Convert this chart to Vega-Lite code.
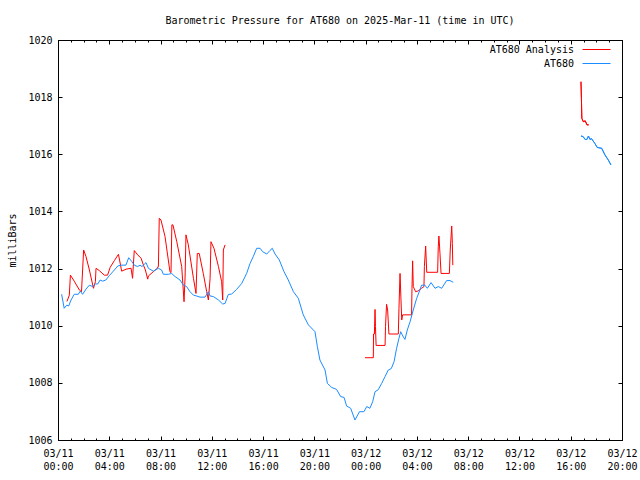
{
  "$schema": "https://vega.github.io/schema/vega-lite/v6.json",
  "width": 564,
  "height": 400,
  "autosize": "none",
  "padding": {"left": 58, "top": 40, "right": 18, "bottom": 40},
  "background": "white",
  "title": {"text": "Barometric Pressure for AT680 on 2025-Mar-11 (time in UTC)", "font": "DejaVu Sans Mono", "fontSize": 10, "fontWeight": "normal", "color": "black", "anchor": "middle", "offset": 9},
  "config": {
    "view": {"stroke": "black", "strokeWidth": 1},
    "axis": {"domainColor": "black", "tickColor": "black", "labelColor": "black", "labelFont": "DejaVu Sans Mono", "labelFontSize": 10, "titleFont": "DejaVu Sans Mono", "titleFontSize": 10, "titleFontWeight": "normal", "titleColor": "black", "grid": false},
    "legend": {"orient": "none", "legendX": 524, "legendY": -5, "symbolType": "stroke", "symbolSize": 784, "symbolStrokeWidth": 1, "labelAlign": "right", "labelOffset": -37, "gridAlign": "none", "rowPadding": -6, "labelFont": "DejaVu Sans Mono", "labelFontSize": 10, "labelColor": "black", "padding": 0}
  },
  "data": {"values": [
    {"t": "2025-03-11T00:42:00Z", "v": 1010.85, "s": "AT680 Analysis", "g": "r1"},
    {"t": "2025-03-11T00:53:00Z", "v": 1011.07, "s": "AT680 Analysis", "g": "r1"},
    {"t": "2025-03-11T00:58:00Z", "v": 1011.77, "s": "AT680 Analysis", "g": "r1"},
    {"t": "2025-03-11T01:16:00Z", "v": 1011.56, "s": "AT680 Analysis", "g": "r1"},
    {"t": "2025-03-11T01:40:00Z", "v": 1011.25, "s": "AT680 Analysis", "g": "r1"},
    {"t": "2025-03-11T01:50:00Z", "v": 1011.19, "s": "AT680 Analysis", "g": "r1"},
    {"t": "2025-03-11T02:00:00Z", "v": 1012.65, "s": "AT680 Analysis", "g": "r1"},
    {"t": "2025-03-11T02:11:00Z", "v": 1012.42, "s": "AT680 Analysis", "g": "r1"},
    {"t": "2025-03-11T02:27:00Z", "v": 1011.95, "s": "AT680 Analysis", "g": "r1"},
    {"t": "2025-03-11T02:46:00Z", "v": 1011.31, "s": "AT680 Analysis", "g": "r1"},
    {"t": "2025-03-11T02:55:00Z", "v": 1011.54, "s": "AT680 Analysis", "g": "r1"},
    {"t": "2025-03-11T02:58:00Z", "v": 1012.01, "s": "AT680 Analysis", "g": "r1"},
    {"t": "2025-03-11T03:13:00Z", "v": 1011.93, "s": "AT680 Analysis", "g": "r1"},
    {"t": "2025-03-11T03:37:00Z", "v": 1011.77, "s": "AT680 Analysis", "g": "r1"},
    {"t": "2025-03-11T03:52:00Z", "v": 1011.77, "s": "AT680 Analysis", "g": "r1"},
    {"t": "2025-03-11T04:04:00Z", "v": 1012.04, "s": "AT680 Analysis", "g": "r1"},
    {"t": "2025-03-11T04:24:00Z", "v": 1012.28, "s": "AT680 Analysis", "g": "r1"},
    {"t": "2025-03-11T04:43:00Z", "v": 1012.50, "s": "AT680 Analysis", "g": "r1"},
    {"t": "2025-03-11T04:58:00Z", "v": 1011.91, "s": "AT680 Analysis", "g": "r1"},
    {"t": "2025-03-11T05:19:00Z", "v": 1011.98, "s": "AT680 Analysis", "g": "r1"},
    {"t": "2025-03-11T05:42:00Z", "v": 1012.01, "s": "AT680 Analysis", "g": "r1"},
    {"t": "2025-03-11T05:49:00Z", "v": 1011.66, "s": "AT680 Analysis", "g": "r1"},
    {"t": "2025-03-11T05:57:00Z", "v": 1012.63, "s": "AT680 Analysis", "g": "r1"},
    {"t": "2025-03-11T06:13:00Z", "v": 1012.48, "s": "AT680 Analysis", "g": "r1"},
    {"t": "2025-03-11T06:29:00Z", "v": 1012.36, "s": "AT680 Analysis", "g": "r1"},
    {"t": "2025-03-11T06:40:00Z", "v": 1012.12, "s": "AT680 Analysis", "g": "r1"},
    {"t": "2025-03-11T06:49:00Z", "v": 1011.95, "s": "AT680 Analysis", "g": "r1"},
    {"t": "2025-03-11T07:00:00Z", "v": 1011.63, "s": "AT680 Analysis", "g": "r1"},
    {"t": "2025-03-11T07:03:00Z", "v": 1011.74, "s": "AT680 Analysis", "g": "r1"},
    {"t": "2025-03-11T07:26:00Z", "v": 1011.89, "s": "AT680 Analysis", "g": "r1"},
    {"t": "2025-03-11T07:45:00Z", "v": 1012.01, "s": "AT680 Analysis", "g": "r1"},
    {"t": "2025-03-11T07:50:00Z", "v": 1012.09, "s": "AT680 Analysis", "g": "r1"},
    {"t": "2025-03-11T07:54:00Z", "v": 1013.76, "s": "AT680 Analysis", "g": "r1"},
    {"t": "2025-03-11T08:02:00Z", "v": 1013.70, "s": "AT680 Analysis", "g": "r1"},
    {"t": "2025-03-11T08:21:00Z", "v": 1013.12, "s": "AT680 Analysis", "g": "r1"},
    {"t": "2025-03-11T08:44:00Z", "v": 1011.89, "s": "AT680 Analysis", "g": "r1"},
    {"t": "2025-03-11T08:49:00Z", "v": 1011.86, "s": "AT680 Analysis", "g": "r1"},
    {"t": "2025-03-11T08:53:00Z", "v": 1013.53, "s": "AT680 Analysis", "g": "r1"},
    {"t": "2025-03-11T08:58:00Z", "v": 1013.53, "s": "AT680 Analysis", "g": "r1"},
    {"t": "2025-03-11T09:16:00Z", "v": 1012.94, "s": "AT680 Analysis", "g": "r1"},
    {"t": "2025-03-11T09:39:00Z", "v": 1012.07, "s": "AT680 Analysis", "g": "r1"},
    {"t": "2025-03-11T09:50:00Z", "v": 1010.84, "s": "AT680 Analysis", "g": "r1"},
    {"t": "2025-03-11T09:55:00Z", "v": 1011.74, "s": "AT680 Analysis", "g": "r1"},
    {"t": "2025-03-11T09:59:00Z", "v": 1013.18, "s": "AT680 Analysis", "g": "r1"},
    {"t": "2025-03-11T10:10:00Z", "v": 1012.83, "s": "AT680 Analysis", "g": "r1"},
    {"t": "2025-03-11T10:34:00Z", "v": 1011.66, "s": "AT680 Analysis", "g": "r1"},
    {"t": "2025-03-11T10:46:00Z", "v": 1011.13, "s": "AT680 Analysis", "g": "r1"},
    {"t": "2025-03-11T10:52:00Z", "v": 1012.53, "s": "AT680 Analysis", "g": "r1"},
    {"t": "2025-03-11T11:01:00Z", "v": 1012.53, "s": "AT680 Analysis", "g": "r1"},
    {"t": "2025-03-11T11:20:00Z", "v": 1011.83, "s": "AT680 Analysis", "g": "r1"},
    {"t": "2025-03-11T11:36:00Z", "v": 1011.19, "s": "AT680 Analysis", "g": "r1"},
    {"t": "2025-03-11T11:44:00Z", "v": 1010.90, "s": "AT680 Analysis", "g": "r1"},
    {"t": "2025-03-11T11:52:00Z", "v": 1011.66, "s": "AT680 Analysis", "g": "r1"},
    {"t": "2025-03-11T11:56:00Z", "v": 1012.94, "s": "AT680 Analysis", "g": "r1"},
    {"t": "2025-03-11T12:10:00Z", "v": 1012.71, "s": "AT680 Analysis", "g": "r1"},
    {"t": "2025-03-11T12:31:00Z", "v": 1012.07, "s": "AT680 Analysis", "g": "r1"},
    {"t": "2025-03-11T12:46:00Z", "v": 1011.54, "s": "AT680 Analysis", "g": "r1"},
    {"t": "2025-03-11T12:51:00Z", "v": 1010.90, "s": "AT680 Analysis", "g": "r1"},
    {"t": "2025-03-11T12:54:00Z", "v": 1012.65, "s": "AT680 Analysis", "g": "r1"},
    {"t": "2025-03-11T13:02:00Z", "v": 1012.83, "s": "AT680 Analysis", "g": "r1"},
    {"t": "2025-03-11T23:57:00Z", "v": 1008.88, "s": "AT680 Analysis", "g": "r2"},
    {"t": "2025-03-12T00:36:00Z", "v": 1008.88, "s": "AT680 Analysis", "g": "r2"},
    {"t": "2025-03-12T00:37:00Z", "v": 1009.71, "s": "AT680 Analysis", "g": "r2"},
    {"t": "2025-03-12T00:41:00Z", "v": 1009.71, "s": "AT680 Analysis", "g": "r2"},
    {"t": "2025-03-12T00:44:00Z", "v": 1010.57, "s": "AT680 Analysis", "g": "r2"},
    {"t": "2025-03-12T00:46:00Z", "v": 1009.97, "s": "AT680 Analysis", "g": "r2"},
    {"t": "2025-03-12T00:49:00Z", "v": 1009.31, "s": "AT680 Analysis", "g": "r2"},
    {"t": "2025-03-12T01:31:00Z", "v": 1009.31, "s": "AT680 Analysis", "g": "r2"},
    {"t": "2025-03-12T01:33:00Z", "v": 1009.97, "s": "AT680 Analysis", "g": "r2"},
    {"t": "2025-03-12T01:38:00Z", "v": 1010.75, "s": "AT680 Analysis", "g": "r2"},
    {"t": "2025-03-12T01:43:00Z", "v": 1010.55, "s": "AT680 Analysis", "g": "r2"},
    {"t": "2025-03-12T01:49:00Z", "v": 1009.71, "s": "AT680 Analysis", "g": "r2"},
    {"t": "2025-03-12T02:33:00Z", "v": 1009.71, "s": "AT680 Analysis", "g": "r2"},
    {"t": "2025-03-12T02:36:00Z", "v": 1010.61, "s": "AT680 Analysis", "g": "r2"},
    {"t": "2025-03-12T02:41:00Z", "v": 1011.83, "s": "AT680 Analysis", "g": "r2"},
    {"t": "2025-03-12T02:45:00Z", "v": 1011.00, "s": "AT680 Analysis", "g": "r2"},
    {"t": "2025-03-12T02:49:00Z", "v": 1010.20, "s": "AT680 Analysis", "g": "r2"},
    {"t": "2025-03-12T02:53:00Z", "v": 1010.38, "s": "AT680 Analysis", "g": "r2"},
    {"t": "2025-03-12T03:35:00Z", "v": 1010.38, "s": "AT680 Analysis", "g": "r2"},
    {"t": "2025-03-12T03:37:00Z", "v": 1011.31, "s": "AT680 Analysis", "g": "r2"},
    {"t": "2025-03-12T03:40:00Z", "v": 1012.27, "s": "AT680 Analysis", "g": "r2"},
    {"t": "2025-03-12T03:43:00Z", "v": 1011.37, "s": "AT680 Analysis", "g": "r2"},
    {"t": "2025-03-12T03:54:00Z", "v": 1011.19, "s": "AT680 Analysis", "g": "r2"},
    {"t": "2025-03-12T04:06:00Z", "v": 1011.22, "s": "AT680 Analysis", "g": "r2"},
    {"t": "2025-03-12T04:22:00Z", "v": 1011.31, "s": "AT680 Analysis", "g": "r2"},
    {"t": "2025-03-12T04:33:00Z", "v": 1011.37, "s": "AT680 Analysis", "g": "r2"},
    {"t": "2025-03-12T04:35:00Z", "v": 1012.07, "s": "AT680 Analysis", "g": "r2"},
    {"t": "2025-03-12T04:41:00Z", "v": 1012.79, "s": "AT680 Analysis", "g": "r2"},
    {"t": "2025-03-12T04:46:00Z", "v": 1011.87, "s": "AT680 Analysis", "g": "r2"},
    {"t": "2025-03-12T05:37:00Z", "v": 1011.87, "s": "AT680 Analysis", "g": "r2"},
    {"t": "2025-03-12T05:40:00Z", "v": 1012.77, "s": "AT680 Analysis", "g": "r2"},
    {"t": "2025-03-12T05:43:00Z", "v": 1013.14, "s": "AT680 Analysis", "g": "r2"},
    {"t": "2025-03-12T05:48:00Z", "v": 1012.53, "s": "AT680 Analysis", "g": "r2"},
    {"t": "2025-03-12T05:53:00Z", "v": 1011.83, "s": "AT680 Analysis", "g": "r2"},
    {"t": "2025-03-12T06:32:00Z", "v": 1011.83, "s": "AT680 Analysis", "g": "r2"},
    {"t": "2025-03-12T06:36:00Z", "v": 1012.65, "s": "AT680 Analysis", "g": "r2"},
    {"t": "2025-03-12T06:43:00Z", "v": 1013.49, "s": "AT680 Analysis", "g": "r2"},
    {"t": "2025-03-12T06:46:00Z", "v": 1012.88, "s": "AT680 Analysis", "g": "r2"},
    {"t": "2025-03-12T06:48:00Z", "v": 1012.12, "s": "AT680 Analysis", "g": "r2"},
    {"t": "2025-03-12T16:48:00Z", "v": 1018.54, "s": "AT680 Analysis", "g": "r3"},
    {"t": "2025-03-12T16:50:00Z", "v": 1017.96, "s": "AT680 Analysis", "g": "r3"},
    {"t": "2025-03-12T16:52:00Z", "v": 1017.26, "s": "AT680 Analysis", "g": "r3"},
    {"t": "2025-03-12T16:59:00Z", "v": 1017.14, "s": "AT680 Analysis", "g": "r3"},
    {"t": "2025-03-12T17:08:00Z", "v": 1017.17, "s": "AT680 Analysis", "g": "r3"},
    {"t": "2025-03-12T17:16:00Z", "v": 1017.03, "s": "AT680 Analysis", "g": "r3"},
    {"t": "2025-03-12T17:24:00Z", "v": 1017.03, "s": "AT680 Analysis", "g": "r3"},
    {"t": "2025-03-11T00:17:00Z", "v": 1011.10, "s": "AT680", "g": "b1"},
    {"t": "2025-03-11T00:29:00Z", "v": 1010.61, "s": "AT680", "g": "b1"},
    {"t": "2025-03-11T00:41:00Z", "v": 1010.72, "s": "AT680", "g": "b1"},
    {"t": "2025-03-11T00:50:00Z", "v": 1010.69, "s": "AT680", "g": "b1"},
    {"t": "2025-03-11T01:01:00Z", "v": 1010.90, "s": "AT680", "g": "b1"},
    {"t": "2025-03-11T01:16:00Z", "v": 1011.10, "s": "AT680", "g": "b1"},
    {"t": "2025-03-11T01:35:00Z", "v": 1011.10, "s": "AT680", "g": "b1"},
    {"t": "2025-03-11T01:44:00Z", "v": 1011.21, "s": "AT680", "g": "b1"},
    {"t": "2025-03-11T01:55:00Z", "v": 1011.10, "s": "AT680", "g": "b1"},
    {"t": "2025-03-11T02:11:00Z", "v": 1011.28, "s": "AT680", "g": "b1"},
    {"t": "2025-03-11T02:27:00Z", "v": 1011.42, "s": "AT680", "g": "b1"},
    {"t": "2025-03-11T02:42:00Z", "v": 1011.37, "s": "AT680", "g": "b1"},
    {"t": "2025-03-11T02:55:00Z", "v": 1011.46, "s": "AT680", "g": "b1"},
    {"t": "2025-03-11T03:06:00Z", "v": 1011.46, "s": "AT680", "g": "b1"},
    {"t": "2025-03-11T03:17:00Z", "v": 1011.60, "s": "AT680", "g": "b1"},
    {"t": "2025-03-11T03:29:00Z", "v": 1011.56, "s": "AT680", "g": "b1"},
    {"t": "2025-03-11T03:44:00Z", "v": 1011.60, "s": "AT680", "g": "b1"},
    {"t": "2025-03-11T04:00:00Z", "v": 1011.75, "s": "AT680", "g": "b1"},
    {"t": "2025-03-11T04:19:00Z", "v": 1011.91, "s": "AT680", "g": "b1"},
    {"t": "2025-03-11T04:40:00Z", "v": 1012.09, "s": "AT680", "g": "b1"},
    {"t": "2025-03-11T04:55:00Z", "v": 1012.12, "s": "AT680", "g": "b1"},
    {"t": "2025-03-11T05:18:00Z", "v": 1012.12, "s": "AT680", "g": "b1"},
    {"t": "2025-03-11T05:31:00Z", "v": 1012.38, "s": "AT680", "g": "b1"},
    {"t": "2025-03-11T05:46:00Z", "v": 1012.24, "s": "AT680", "g": "b1"},
    {"t": "2025-03-11T05:57:00Z", "v": 1012.12, "s": "AT680", "g": "b1"},
    {"t": "2025-03-11T06:13:00Z", "v": 1012.07, "s": "AT680", "g": "b1"},
    {"t": "2025-03-11T06:24:00Z", "v": 1012.12, "s": "AT680", "g": "b1"},
    {"t": "2025-03-11T06:33:00Z", "v": 1012.07, "s": "AT680", "g": "b1"},
    {"t": "2025-03-11T06:52:00Z", "v": 1012.21, "s": "AT680", "g": "b1"},
    {"t": "2025-03-11T07:03:00Z", "v": 1012.01, "s": "AT680", "g": "b1"},
    {"t": "2025-03-11T07:26:00Z", "v": 1011.91, "s": "AT680", "g": "b1"},
    {"t": "2025-03-11T07:50:00Z", "v": 1012.01, "s": "AT680", "g": "b1"},
    {"t": "2025-03-11T08:05:00Z", "v": 1011.95, "s": "AT680", "g": "b1"},
    {"t": "2025-03-11T08:13:00Z", "v": 1011.80, "s": "AT680", "g": "b1"},
    {"t": "2025-03-11T08:37:00Z", "v": 1011.80, "s": "AT680", "g": "b1"},
    {"t": "2025-03-11T08:52:00Z", "v": 1011.83, "s": "AT680", "g": "b1"},
    {"t": "2025-03-11T09:08:00Z", "v": 1011.72, "s": "AT680", "g": "b1"},
    {"t": "2025-03-11T09:31:00Z", "v": 1011.60, "s": "AT680", "g": "b1"},
    {"t": "2025-03-11T09:47:00Z", "v": 1011.42, "s": "AT680", "g": "b1"},
    {"t": "2025-03-11T10:02:00Z", "v": 1011.37, "s": "AT680", "g": "b1"},
    {"t": "2025-03-11T10:18:00Z", "v": 1011.19, "s": "AT680", "g": "b1"},
    {"t": "2025-03-11T10:34:00Z", "v": 1011.07, "s": "AT680", "g": "b1"},
    {"t": "2025-03-11T10:49:00Z", "v": 1011.04, "s": "AT680", "g": "b1"},
    {"t": "2025-03-11T11:05:00Z", "v": 1011.00, "s": "AT680", "g": "b1"},
    {"t": "2025-03-11T11:28:00Z", "v": 1011.00, "s": "AT680", "g": "b1"},
    {"t": "2025-03-11T11:44:00Z", "v": 1011.19, "s": "AT680", "g": "b1"},
    {"t": "2025-03-11T11:52:00Z", "v": 1011.04, "s": "AT680", "g": "b1"},
    {"t": "2025-03-11T12:07:00Z", "v": 1011.02, "s": "AT680", "g": "b1"},
    {"t": "2025-03-11T12:31:00Z", "v": 1010.90, "s": "AT680", "g": "b1"},
    {"t": "2025-03-11T12:51:00Z", "v": 1010.76, "s": "AT680", "g": "b1"},
    {"t": "2025-03-11T13:02:00Z", "v": 1010.78, "s": "AT680", "g": "b1"},
    {"t": "2025-03-11T13:17:00Z", "v": 1011.09, "s": "AT680", "g": "b1"},
    {"t": "2025-03-11T13:33:00Z", "v": 1011.11, "s": "AT680", "g": "b1"},
    {"t": "2025-03-11T13:56:00Z", "v": 1011.27, "s": "AT680", "g": "b1"},
    {"t": "2025-03-11T14:20:00Z", "v": 1011.48, "s": "AT680", "g": "b1"},
    {"t": "2025-03-11T14:43:00Z", "v": 1011.83, "s": "AT680", "g": "b1"},
    {"t": "2025-03-11T14:59:00Z", "v": 1012.18, "s": "AT680", "g": "b1"},
    {"t": "2025-03-11T15:14:00Z", "v": 1012.42, "s": "AT680", "g": "b1"},
    {"t": "2025-03-11T15:30:00Z", "v": 1012.71, "s": "AT680", "g": "b1"},
    {"t": "2025-03-11T15:46:00Z", "v": 1012.71, "s": "AT680", "g": "b1"},
    {"t": "2025-03-11T15:58:00Z", "v": 1012.59, "s": "AT680", "g": "b1"},
    {"t": "2025-03-11T16:17:00Z", "v": 1012.51, "s": "AT680", "g": "b1"},
    {"t": "2025-03-11T16:32:00Z", "v": 1012.63, "s": "AT680", "g": "b1"},
    {"t": "2025-03-11T16:43:00Z", "v": 1012.71, "s": "AT680", "g": "b1"},
    {"t": "2025-03-11T16:56:00Z", "v": 1012.51, "s": "AT680", "g": "b1"},
    {"t": "2025-03-11T17:16:00Z", "v": 1012.30, "s": "AT680", "g": "b1"},
    {"t": "2025-03-11T17:38:00Z", "v": 1011.89, "s": "AT680", "g": "b1"},
    {"t": "2025-03-11T17:58:00Z", "v": 1011.60, "s": "AT680", "g": "b1"},
    {"t": "2025-03-11T18:22:00Z", "v": 1011.19, "s": "AT680", "g": "b1"},
    {"t": "2025-03-11T18:45:00Z", "v": 1010.96, "s": "AT680", "g": "b1"},
    {"t": "2025-03-11T19:08:00Z", "v": 1010.38, "s": "AT680", "g": "b1"},
    {"t": "2025-03-11T19:32:00Z", "v": 1010.03, "s": "AT680", "g": "b1"},
    {"t": "2025-03-11T20:03:00Z", "v": 1009.79, "s": "AT680", "g": "b1"},
    {"t": "2025-03-11T20:14:00Z", "v": 1009.27, "s": "AT680", "g": "b1"},
    {"t": "2025-03-11T20:26:00Z", "v": 1008.80, "s": "AT680", "g": "b1"},
    {"t": "2025-03-11T20:50:00Z", "v": 1008.45, "s": "AT680", "g": "b1"},
    {"t": "2025-03-11T21:01:00Z", "v": 1007.98, "s": "AT680", "g": "b1"},
    {"t": "2025-03-11T21:21:00Z", "v": 1007.84, "s": "AT680", "g": "b1"},
    {"t": "2025-03-11T21:44:00Z", "v": 1007.77, "s": "AT680", "g": "b1"},
    {"t": "2025-03-11T22:03:00Z", "v": 1007.52, "s": "AT680", "g": "b1"},
    {"t": "2025-03-11T22:19:00Z", "v": 1007.49, "s": "AT680", "g": "b1"},
    {"t": "2025-03-11T22:31:00Z", "v": 1007.19, "s": "AT680", "g": "b1"},
    {"t": "2025-03-11T22:50:00Z", "v": 1007.11, "s": "AT680", "g": "b1"},
    {"t": "2025-03-11T23:10:00Z", "v": 1006.70, "s": "AT680", "g": "b1"},
    {"t": "2025-03-11T23:31:00Z", "v": 1006.99, "s": "AT680", "g": "b1"},
    {"t": "2025-03-11T23:52:00Z", "v": 1006.99, "s": "AT680", "g": "b1"},
    {"t": "2025-03-12T00:05:00Z", "v": 1007.17, "s": "AT680", "g": "b1"},
    {"t": "2025-03-12T00:20:00Z", "v": 1007.11, "s": "AT680", "g": "b1"},
    {"t": "2025-03-12T00:33:00Z", "v": 1007.34, "s": "AT680", "g": "b1"},
    {"t": "2025-03-12T00:44:00Z", "v": 1007.69, "s": "AT680", "g": "b1"},
    {"t": "2025-03-12T00:59:00Z", "v": 1007.76, "s": "AT680", "g": "b1"},
    {"t": "2025-03-12T01:15:00Z", "v": 1007.98, "s": "AT680", "g": "b1"},
    {"t": "2025-03-12T01:31:00Z", "v": 1008.22, "s": "AT680", "g": "b1"},
    {"t": "2025-03-12T01:46:00Z", "v": 1008.45, "s": "AT680", "g": "b1"},
    {"t": "2025-03-12T02:00:00Z", "v": 1008.50, "s": "AT680", "g": "b1"},
    {"t": "2025-03-12T02:13:00Z", "v": 1008.74, "s": "AT680", "g": "b1"},
    {"t": "2025-03-12T02:25:00Z", "v": 1009.21, "s": "AT680", "g": "b1"},
    {"t": "2025-03-12T02:36:00Z", "v": 1009.56, "s": "AT680", "g": "b1"},
    {"t": "2025-03-12T02:44:00Z", "v": 1009.79, "s": "AT680", "g": "b1"},
    {"t": "2025-03-12T02:54:00Z", "v": 1009.64, "s": "AT680", "g": "b1"},
    {"t": "2025-03-12T03:04:00Z", "v": 1009.52, "s": "AT680", "g": "b1"},
    {"t": "2025-03-12T03:15:00Z", "v": 1009.85, "s": "AT680", "g": "b1"},
    {"t": "2025-03-12T03:28:00Z", "v": 1010.14, "s": "AT680", "g": "b1"},
    {"t": "2025-03-12T03:43:00Z", "v": 1010.55, "s": "AT680", "g": "b1"},
    {"t": "2025-03-12T03:59:00Z", "v": 1010.96, "s": "AT680", "g": "b1"},
    {"t": "2025-03-12T04:14:00Z", "v": 1011.25, "s": "AT680", "g": "b1"},
    {"t": "2025-03-12T04:22:00Z", "v": 1011.42, "s": "AT680", "g": "b1"},
    {"t": "2025-03-12T04:37:00Z", "v": 1011.42, "s": "AT680", "g": "b1"},
    {"t": "2025-03-12T04:49:00Z", "v": 1011.31, "s": "AT680", "g": "b1"},
    {"t": "2025-03-12T05:06:00Z", "v": 1011.51, "s": "AT680", "g": "b1"},
    {"t": "2025-03-12T05:25:00Z", "v": 1011.31, "s": "AT680", "g": "b1"},
    {"t": "2025-03-12T05:40:00Z", "v": 1011.37, "s": "AT680", "g": "b1"},
    {"t": "2025-03-12T05:56:00Z", "v": 1011.31, "s": "AT680", "g": "b1"},
    {"t": "2025-03-12T06:19:00Z", "v": 1011.58, "s": "AT680", "g": "b1"},
    {"t": "2025-03-12T06:35:00Z", "v": 1011.58, "s": "AT680", "g": "b1"},
    {"t": "2025-03-12T06:50:00Z", "v": 1011.52, "s": "AT680", "g": "b1"},
    {"t": "2025-03-12T16:48:00Z", "v": 1016.64, "s": "AT680", "g": "b2"},
    {"t": "2025-03-12T16:58:00Z", "v": 1016.62, "s": "AT680", "g": "b2"},
    {"t": "2025-03-12T17:07:00Z", "v": 1016.52, "s": "AT680", "g": "b2"},
    {"t": "2025-03-12T17:16:00Z", "v": 1016.52, "s": "AT680", "g": "b2"},
    {"t": "2025-03-12T17:23:00Z", "v": 1016.64, "s": "AT680", "g": "b2"},
    {"t": "2025-03-12T17:30:00Z", "v": 1016.52, "s": "AT680", "g": "b2"},
    {"t": "2025-03-12T17:37:00Z", "v": 1016.55, "s": "AT680", "g": "b2"},
    {"t": "2025-03-12T17:53:00Z", "v": 1016.38, "s": "AT680", "g": "b2"},
    {"t": "2025-03-12T18:04:00Z", "v": 1016.24, "s": "AT680", "g": "b2"},
    {"t": "2025-03-12T18:25:00Z", "v": 1016.21, "s": "AT680", "g": "b2"},
    {"t": "2025-03-12T18:40:00Z", "v": 1015.98, "s": "AT680", "g": "b2"},
    {"t": "2025-03-12T18:56:00Z", "v": 1015.80, "s": "AT680", "g": "b2"},
    {"t": "2025-03-12T19:08:00Z", "v": 1015.63, "s": "AT680", "g": "b2"}
  ]},
  "encoding": {
    "x": {"field": "t", "type": "temporal", "scale": {"type": "utc", "domain": ["2025-03-11T00:00:00Z", "2025-03-12T20:00:00Z"], "nice": false}},
    "y": {"field": "v", "type": "quantitative", "scale": {"domain": [1006, 1020], "nice": false, "zero": false}},
    "color": {"field": "s", "type": "nominal", "scale": {"domain": ["AT680 Analysis", "AT680"], "range": ["#ff0000", "#1a8cff"]}, "legend": {"title": null}},
    "detail": {"field": "g", "type": "nominal"}
  },
  "layer": [
    {
      "transform": [{"filter": "datum.s == 'AT680 Analysis'"}],
      "mark": {"type": "line", "strokeWidth": 1},
      "encoding": {
        "x": {"field": "t", "type": "temporal", "axis": {"orient": "bottom", "title": null, "values": [1741651200000, 1741665600000, 1741680000000, 1741694400000, 1741708800000, 1741723200000, 1741737600000, 1741752000000, 1741766400000, 1741780800000, 1741795200000, 1741809600000], "tickSize": -4, "labelPadding": 12, "labelBaseline": "top", "labelLineHeight": 13, "labelExpr": "[utcFormat(datum.value, '%m/%d'), utcFormat(datum.value, '%H:%M')]", "labelOverlap": false, "labelFlush": false}},
        "y": {"field": "v", "type": "quantitative", "axis": {"orient": "left", "title": "milliBars", "values": [1006, 1008, 1010, 1012, 1014, 1016, 1018, 1020], "format": "d", "tickSize": -4, "labelPadding": 10, "titleX": -46, "titleY": 200, "titleAngle": -90, "titleAlign": "center", "titleBaseline": "middle"}}
      }
    },
    {
      "transform": [{"filter": "datum.s == 'AT680'"}],
      "mark": {"type": "line", "strokeWidth": 1},
      "encoding": {
        "x": {"field": "t", "type": "temporal", "axis": {"orient": "top", "title": null, "labels": false, "domain": false, "values": [1741651200000, 1741665600000, 1741680000000, 1741694400000, 1741708800000, 1741723200000, 1741737600000, 1741752000000, 1741766400000, 1741780800000, 1741795200000, 1741809600000], "tickSize": -4}},
        "y": {"field": "v", "type": "quantitative", "axis": {"orient": "right", "title": null, "labels": false, "domain": false, "values": [1006, 1008, 1010, 1012, 1014, 1016, 1018, 1020], "tickSize": -4}}
      }
    },
    {
      "transform": [{"filter": "datum.g == 'b2'"}],
      "mark": {"type": "line", "strokeWidth": 1},
      "encoding": {
        "x": {"field": "t", "type": "temporal", "axis": {"orient": "bottom", "title": null, "labels": false, "domain": false, "values": [1741651200000, 1741654800000, 1741658400000, 1741662000000, 1741665600000, 1741669200000, 1741672800000, 1741676400000, 1741680000000, 1741683600000, 1741687200000, 1741690800000, 1741694400000, 1741698000000, 1741701600000, 1741705200000, 1741708800000, 1741712400000, 1741716000000, 1741719600000, 1741723200000, 1741726800000, 1741730400000, 1741734000000, 1741737600000, 1741741200000, 1741744800000, 1741748400000, 1741752000000, 1741755600000, 1741759200000, 1741762800000, 1741766400000, 1741770000000, 1741773600000, 1741777200000, 1741780800000, 1741784400000, 1741788000000, 1741791600000, 1741795200000, 1741798800000, 1741802400000, 1741806000000, 1741809600000], "tickSize": -2}},
        "y": {"field": "v", "type": "quantitative", "axis": null}
      }
    },
    {
      "transform": [{"filter": "datum.g == 'r3'"}],
      "mark": {"type": "line", "strokeWidth": 1},
      "encoding": {
        "x": {"field": "t", "type": "temporal", "axis": {"orient": "top", "title": null, "labels": false, "domain": false, "values": [1741651200000, 1741654800000, 1741658400000, 1741662000000, 1741665600000, 1741669200000, 1741672800000, 1741676400000, 1741680000000, 1741683600000, 1741687200000, 1741690800000, 1741694400000, 1741698000000, 1741701600000, 1741705200000, 1741708800000, 1741712400000, 1741716000000, 1741719600000, 1741723200000, 1741726800000, 1741730400000, 1741734000000, 1741737600000, 1741741200000, 1741744800000, 1741748400000, 1741752000000, 1741755600000, 1741759200000, 1741762800000, 1741766400000, 1741770000000, 1741773600000, 1741777200000, 1741780800000, 1741784400000, 1741788000000, 1741791600000, 1741795200000, 1741798800000, 1741802400000, 1741806000000, 1741809600000], "tickSize": -2}},
        "y": {"field": "v", "type": "quantitative", "axis": null}
      }
    }
  ],
  "resolve": {"axis": {"x": "independent", "y": "independent"}}
}
